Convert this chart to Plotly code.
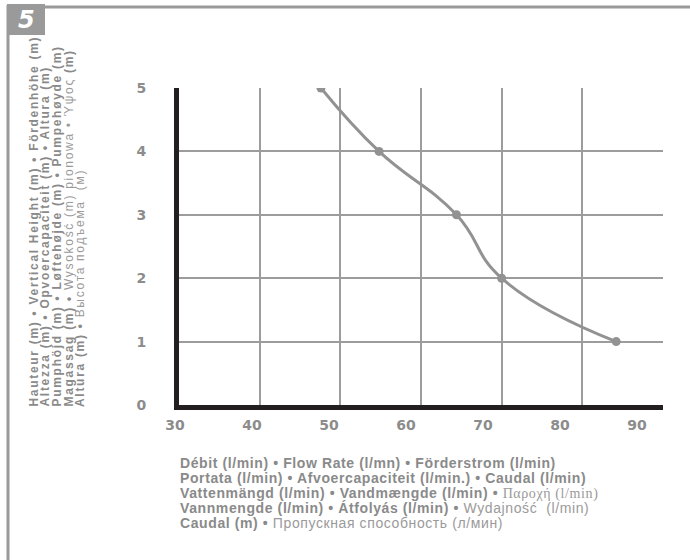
import plotly.graph_objects as go

# ---- data ----
flow_lpm = [47.6, 54.8, 64.4, 70.0, 84.2]
height_m = [5, 4, 3, 2, 1]

x_ticks = [30, 40, 50, 60, 70, 80, 90]
y_ticks = [0, 1, 2, 3, 4, 5]

badge_label = "5"

B = "#8a8a8a"   # bold text grey
y_title_lines = [
    "<b>Hauteur (m) • Vertical Height (m) • Fördenhöhe (m)</b>",
    "<b>Altezza (m) • Opvoercapaciteit (m) • Altura (m)</b>",
    "<b>Pumphöjd (m) • Løftehøjde (m) • Pumpehøyde (m)</b>",
    "<b>Magassag (m) •</b> <span style='color:#9a9a9a'>Wysokość (m) pionowa • Ύψος</span> <b>(m)</b>",
    "<b>Altura (m) •</b> <span style='color:#9a9a9a'>Высота подъема  (м)</span>",
]
x_title_lines = [
    "<b>Débit (l/min) • Flow Rate (l/mn) • Förderstrom (l/min)</b>",
    "<b>Portata (l/min) • Afvoercapaciteit (l/min.) • Caudal (l/min)</b>",
    "<b>Vattenmängd (l/min) • Vandmængde (l/min) •</b> <span style='font-family:Liberation Serif;color:#9a9a9a'>Παροχή (l/min)</span>",
    "<b>Vannmengde (l/min) • Átfolyás (l/min) •</b> <span style='color:#9a9a9a'>Wydajność  (l/min)</span>",
    "<b>Caudal (m) •</b> <span style='color:#9a9a9a'>Пропускная способность (л/мин)</span>",
]

# ---- layout geometry (pixels) ----
W, H = 690, 560
ML, MR, MT, MB = 179, 27, 88, 155
PW, PH = W - ML - MR, H - MT - MB


def px(x):
    return (x - ML) / PW


def py(y):
    return (H - MB - y) / PH


fig = go.Figure()

fig.add_trace(go.Scatter(
    x=flow_lpm, y=height_m, mode="lines+markers",
    line=dict(color="#929292", width=3, shape="spline", smoothing=1.3),
    marker=dict(color="#929292", size=9),
    hoverinfo="skip", showlegend=False,
))
# invisible trace to carry the tick-label axis
fig.add_trace(go.Scatter(
    x=flow_lpm, y=height_m, xaxis="x2", mode="markers",
    marker=dict(opacity=0), hoverinfo="skip", showlegend=False,
))

tickfont = dict(family="DejaVu Sans", size=14, color="#8c8c8c", weight="bold")

fig.update_layout(
    width=W, height=H,
    margin=dict(l=ML, r=MR, t=MT, b=MB),
    paper_bgcolor="white", plot_bgcolor="white",
    xaxis=dict(
        range=[30, 90], tickvals=x_ticks, showticklabels=False,
        showgrid=True, gridcolor="#9c9c9c", gridwidth=1.5,
        showline=True, linecolor="#231f20", linewidth=5,
        zeroline=False, ticks="",
    ),
    xaxis2=dict(
        overlaying="x", anchor="y", side="bottom",
        range=[30, 92.86], tickvals=x_ticks,
        ticktext=[str(v) for v in x_ticks],
        showgrid=False, zeroline=False, showline=False, ticks="",
        tickfont=tickfont, ticklabelstandoff=10, ticklabelshift=-4,
    ),
    yaxis=dict(
        range=[0, 5], tickvals=y_ticks,
        showgrid=True, gridcolor="#9c9c9c", gridwidth=1.5,
        showline=True, linecolor="#231f20", linewidth=5,
        zeroline=False, ticks="", tickfont=tickfont,
        ticklabelstandoff=25,
    ),
)

shapes = [
    # frame lines
    dict(type="line", xref="paper", yref="paper",
         x0=px(45), x1=px(W + 5), y0=py(7), y1=py(7),
         line=dict(color="#9a9a9a", width=3)),
    dict(type="line", xref="paper", yref="paper",
         x0=px(8), x1=px(8), y0=py(5), y1=py(H + 5),
         line=dict(color="#9a9a9a", width=3)),
    # badge
    dict(type="rect", xref="paper", yref="paper",
         x0=px(7), x1=px(45), y0=py(4), y1=py(35),
         fillcolor="#9a9a9a", line=dict(width=0)),
]
fig.update_layout(shapes=shapes)

ann = [dict(
    text="<b><i>" + badge_label + "</i></b>", xref="paper", yref="paper",
    x=px(26), y=py(20), xanchor="center", yanchor="middle", showarrow=False,
    font=dict(family="DejaVu Sans", size=24, color="white"),
)]

y_cols = [33, 44, 56, 68, 80]
for line, cx in zip(y_title_lines, y_cols):
    ann.append(dict(
        text="<span style='letter-spacing:1.7px'>" + line + "</span>",
        xref="paper", yref="paper", x=px(cx), y=py(409),
        xanchor="center", yanchor="bottom", textangle=-90, showarrow=False,
        font=dict(family="Liberation Sans", size=12, color=B),
    ))

x_rows = [463, 478, 493, 508, 523]
for line, cy in zip(x_title_lines, x_rows):
    ann.append(dict(
        text="<span style='letter-spacing:0.6px'>" + line + "</span>",
        xref="paper", yref="paper", x=px(178), y=py(cy),
        xanchor="left", yanchor="middle", showarrow=False,
        font=dict(family="Liberation Sans", size=14, color=B),
    ))

fig.update_layout(annotations=ann)

fig.write_html("out.html", config={"displayModeBar": False},
               post_script="document.body.style.margin='0';")
